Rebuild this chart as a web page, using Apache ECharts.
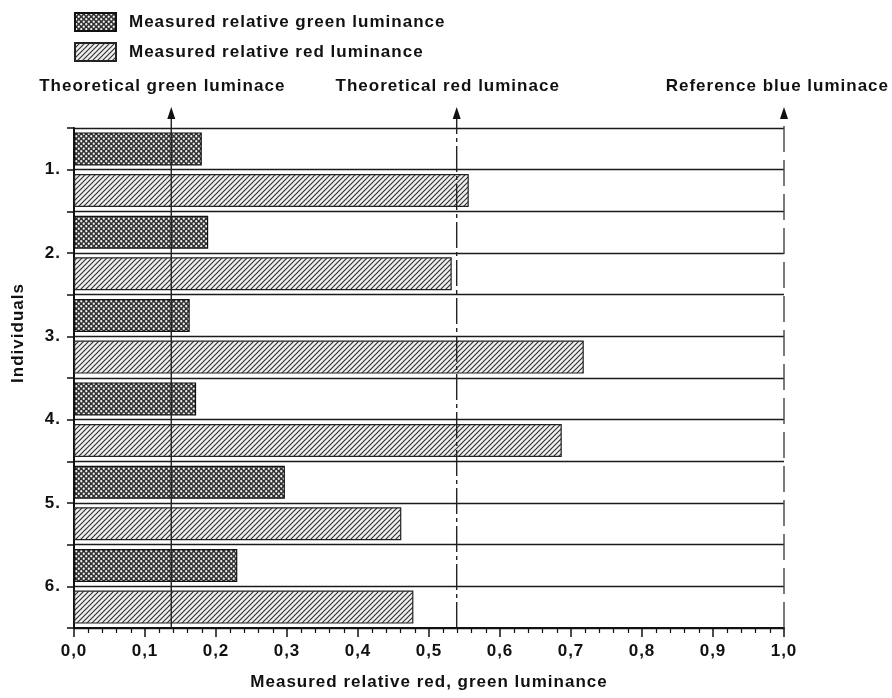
<!DOCTYPE html>
<html>
<head>
<meta charset="utf-8">
<script src="https://cdn.jsdelivr.net/npm/echarts@6/dist/echarts.min.js"></script>
<style>
html,body{margin:0;padding:0;background:#fff;}
#chart{width:892px;height:698px;}
</style>
</head>
<body>
<div id="chart"></div>
<script>
// ---- data ----
var individuals = ['1.', '2.', '3.', '4.', '5.', '6.'];
var greenValues = [0.180, 0.189, 0.163, 0.172, 0.297, 0.230];
var redValues   = [0.556, 0.532, 0.718, 0.687, 0.461, 0.478];
var seriesNames = ['Measured relative green luminance', 'Measured relative red luminance'];
var annotationNames  = ['Theoretical green luminace', 'Theoretical red luminace', 'Reference blue luminace'];
var annotationValues = [0.137, 0.539, 1.0];
var xTicks = [0, 0.1, 0.2, 0.3, 0.4, 0.5, 0.6, 0.7, 0.8, 0.9, 1.0];

// slightly wider letter spacing, like the scanned original
(function () {
  var proto = CanvasRenderingContext2D.prototype;
  var orig = proto.fillText;
  proto.fillText = function () {
    try { this.letterSpacing = '1px'; } catch (e) {}
    return orig.apply(this, arguments);
  };
})();

// ---- patterns ----
function dotPattern() {
  var c = document.createElement('canvas');
  c.width = 5; c.height = 5;
  var g = c.getContext('2d');
  g.fillStyle = '#303030'; g.fillRect(0, 0, 5, 5);
  g.fillStyle = '#f0f0f0';
  g.beginPath(); g.arc(1.25, 1.25, 1.15, 0, Math.PI * 2); g.fill();
  g.beginPath(); g.arc(3.75, 3.75, 1.15, 0, Math.PI * 2); g.fill();
  return c;
}
function hatchPattern() {
  var c = document.createElement('canvas');
  c.width = 5; c.height = 5;
  var g = c.getContext('2d');
  g.fillStyle = '#f0f0f0'; g.fillRect(0, 0, 5, 5);
  g.strokeStyle = '#333'; g.lineWidth = 1.2;
  g.beginPath();
  g.moveTo(-1, 6); g.lineTo(6, -1);
  g.moveTo(-1, 1); g.lineTo(1, -1);
  g.moveTo(4, 6); g.lineTo(6, 4);
  g.stroke();
  return c;
}
var greenFill = {image: dotPattern(), repeat: 'repeat'};
var redFill = {image: hatchPattern(), repeat: 'repeat'};

var FONT = 'Liberation Sans';
var FS = 17;
var slots = [];
for (var i = 0; i < individuals.length * 2; i++) slots.push(String(i));

var chart = echarts.init(document.getElementById('chart'), null, {renderer: 'canvas'});
var option = {
  backgroundColor: '#fff',
  animation: false,
  textStyle: {fontFamily: FONT},
  legend: {
    orient: 'vertical',
    left: 74, top: 12, padding: 0,
    itemWidth: 41, itemHeight: 18, itemGap: 10,
    icon: 'rect',
    data: seriesNames,
    textStyle: {fontFamily: FONT, fontSize: FS, fontWeight: 'bold', color: '#111', padding: [0, 0, 0, 8]}
  },
  grid: {left: 74, right: 108, top: 128, bottom: 70, containLabel: false},
  xAxis: {
    type: 'value', min: 0, max: 1, interval: 0.1,
    name: 'Measured relative red, green luminance',
    nameLocation: 'middle', nameGap: 46,
    nameTextStyle: {fontFamily: FONT, fontSize: FS, fontWeight: 'bold', color: '#111'},
    axisLine: {show: true, lineStyle: {color: '#111', width: 2}},
    axisTick: {show: true, length: 9, lineStyle: {color: '#111', width: 1.5}},
    minorTick: {show: true, splitNumber: 5, length: 5, lineStyle: {color: '#111', width: 1.2}},
    splitLine: {show: false},
    axisLabel: {
      fontFamily: FONT, fontSize: FS, fontWeight: 'bold', color: '#111', margin: 15,
      formatter: function (v) { return v.toFixed(1).replace('.', ','); }
    }
  },
  yAxis: [{
    type: 'category', data: individuals, inverse: true,
    axisLine: {show: true, lineStyle: {color: '#111', width: 2}},
    axisTick: {show: false},
    axisLabel: {fontFamily: FONT, fontSize: FS, fontWeight: 'bold', color: '#111', margin: 13},
    splitLine: {show: false}
  }, {
    type: 'category', data: slots, inverse: true, position: 'left',
    axisLine: {show: false},
    axisTick: {show: true, interval: 0, length: 7, lineStyle: {color: '#111', width: 1.5}},
    axisLabel: {show: false},
    splitLine: {show: true, interval: 0, lineStyle: {color: '#1a1a1a', width: 1.3}}
  }],
  series: [{
    name: seriesNames[0], type: 'bar', yAxisIndex: 0,
    data: greenValues, barWidth: 33, barGap: '26%',
    itemStyle: {color: greenFill, borderColor: '#111', borderWidth: 1.2},
    z: 3
  }, {
    name: seriesNames[1], type: 'bar', yAxisIndex: 0,
    data: redValues, barWidth: 33, barGap: '26%',
    itemStyle: {color: redFill, borderColor: '#222', borderWidth: 1.2},
    z: 3
  }]
};
chart.setOption(option);

// ---- annotation lines with arrows, positioned through the x scale ----
var dashes = [null, [26, 4, 4, 4], [26, 8]];
var lineColors = ['#222', '#222', '#444'];
var gridRect = chart.getModel().getComponent('grid', 0).coordinateSystem.getRect();
var gTop = gridRect.y, gBottom = gridRect.y + gridRect.height;
var arrowTip = gTop - 21, arrowBase = gTop - 10;
var graphics = [];
annotationValues.forEach(function (v, k) {
  var px = chart.convertToPixel({xAxisIndex: 0}, v);
  graphics.push({
    type: 'line', z: 50,
    shape: {x1: px, y1: gBottom, x2: px, y2: arrowBase},
    style: {stroke: lineColors[k], lineWidth: 1.4, lineDash: dashes[k] || null}
  });
  graphics.push({
    type: 'polygon', z: 50,
    shape: {points: [[px, arrowTip], [px - 4, arrowBase + 1], [px + 4, arrowBase + 1]]},
    style: {fill: '#111'}
  });
  var isLast = k === annotationValues.length - 1;
  graphics.push({
    type: 'text', z: 50,
    x: isLast ? 889 : px - 9, y: gTop - 42,
    style: {
      text: annotationNames[k], fontFamily: FONT, fontSize: FS, fontWeight: 'bold',
      fill: '#111', align: isLast ? 'right' : 'center', verticalAlign: 'middle'
    }
  });
});
graphics.push({
  type: 'text', x: 18, y: 333, rotation: Math.PI / 2,
  style: {text: 'Individuals', fontFamily: FONT, fontSize: FS, fontWeight: 'bold', fill: '#111',
          align: 'center', verticalAlign: 'middle'}
});
chart.setOption({graphic: graphics});
</script>
</body>
</html>
